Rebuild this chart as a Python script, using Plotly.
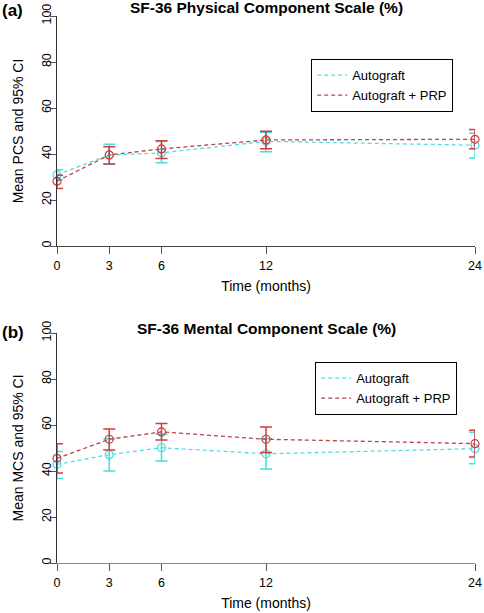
import plotly.graph_objects as go

months = [0, 3, 6, 12, 24]
x_ticks = [0, 3, 6, 12, 24]
y_ticks = [0, 20, 40, 60, 80, 100]

pcs_auto_mean = [31.0, 39.5, 40.5, 45.5, 43.8]
pcs_auto_lo = [28.8, 35.5, 36.2, 41.0, 38.3]
pcs_auto_hi = [33.2, 44.2, 45.4, 49.5, 49.0]
pcs_prp_mean = [28.2, 39.6, 42.2, 46.1, 46.4]
pcs_prp_lo = [25.0, 35.6, 38.0, 42.3, 42.3]
pcs_prp_hi = [30.8, 43.2, 45.8, 49.9, 50.6]

mcs_auto_mean = [42.9, 47.1, 50.1, 47.5, 49.7]
mcs_auto_lo = [36.7, 40.0, 44.3, 40.9, 43.2]
mcs_auto_hi = [48.5, 54.0, 56.0, 54.0, 56.8]
mcs_prp_mean = [45.5, 53.8, 57.0, 53.8, 51.9]
mcs_prp_lo = [39.1, 49.1, 53.5, 48.0, 46.1]
mcs_prp_hi = [51.9, 58.3, 60.6, 59.1, 57.7]

series_names = ["Autograft", "Autograft + PRP"]
titles = ["SF-36 Physical Component Scale (%)", "SF-36 Mental Component Scale (%)"]
panel_labels = ["(a)", "(b)"]
y_titles = ["Mean PCS and 95% CI", "Mean MCS and 95% CI"]
x_title = "Time (months)"

CYAN_LINE = "#55DDE6"
CYAN_BAR = "#3FE0E0"
RED_LINE = "#B8444A"
RED_BAR = "#D83A3A"
FONT = "Liberation Sans, Arial, sans-serif"

W, H = 484, 613
ML, MR, MT, MB = 57, 9, 16, 50
PW, PH = W - ML - MR, H - MT - MB


def px_x(px):
    return (px - ML) / PW


def px_y(py):
    return (H - MB - py) / PH


fig = go.Figure()

panels = [
    ("x", "y", "legend",
     [(pcs_auto_mean, pcs_auto_lo, pcs_auto_hi), (pcs_prp_mean, pcs_prp_lo, pcs_prp_hi)]),
    ("x2", "y2", "legend2",
     [(mcs_auto_mean, mcs_auto_lo, mcs_auto_hi), (mcs_prp_mean, mcs_prp_lo, mcs_prp_hi)]),
]

for xa, ya, lg, data in panels:
    for (mean, lo, hi), name, lc, bc in zip(data, series_names, [CYAN_LINE, RED_LINE], [CYAN_BAR, RED_BAR]):
        fig.add_trace(go.Scatter(
            x=months, y=mean, mode="lines", name=name, xaxis=xa, yaxis=ya,
            legend=lg, line=dict(color=lc, width=1.3, dash="4px,3px"),
            cliponaxis=False,
        ))
        fig.add_trace(go.Scatter(
            x=months, y=mean, mode="markers", showlegend=False, xaxis=xa, yaxis=ya,
            marker=dict(symbol="circle-open", size=8, color=bc, line=dict(width=1.2, color=bc)),
            error_y=dict(type="data", symmetric=False,
                         array=[h - m for h, m in zip(hi, mean)],
                         arrayminus=[m - l for m, l in zip(mean, lo)],
                         color=bc, thickness=1.5, width=6),
            cliponaxis=False,
        ))

axis_common = dict(showgrid=False, zeroline=False, showline=True,
                   linewidth=1.3, ticks="outside", tickcolor="#555555",
                   tickwidth=1.2, automargin=False, ticklabeloverflow="allow",
                   tickfont=dict(family=FONT, size=12.5, color="black"))
x_common = dict(domain=[0, 1], range=[0, 24], tickvals=x_ticks, ticklen=7,
                ticklabelstandoff=1,
                title=dict(text=x_title, standoff=9, font=dict(size=14)), **axis_common)
y_common = dict(range=[0, 100], tickvals=y_ticks, ticklen=6, tickangle=-90,
                ticklabelstandoff=-6, linecolor="#333333", **axis_common)

fig.update_layout(
    width=W, height=H,
    margin=dict(l=ML, r=MR, t=MT, b=MB),
    paper_bgcolor="white", plot_bgcolor="white",
    font=dict(family=FONT, size=13, color="black"),
    xaxis=dict(anchor="y", linecolor="#444444", **x_common),
    yaxis=dict(domain=[px_y(246), 1.0], anchor="x",
               title=dict(text=y_titles[0], standoff=12, font=dict(size=14)), **y_common),
    xaxis2=dict(anchor="y2", linecolor="#8a8a8a", **x_common),
    yaxis2=dict(domain=[0, px_y(333)], anchor="x2",
                title=dict(text=y_titles[1], standoff=12, font=dict(size=14)), **y_common),
    legend=dict(x=px_x(311), y=px_y(59), xanchor="left", yanchor="top",
                bordercolor="black", borderwidth=1.2, bgcolor="white",
                font=dict(size=13), itemwidth=30, tracegroupgap=0),
    legend2=dict(x=px_x(315), y=px_y(362), xanchor="left", yanchor="top",
                 bordercolor="black", borderwidth=1.2, bgcolor="white",
                 font=dict(size=13), itemwidth=30, tracegroupgap=0),
    showlegend=True,
)

# Titles and panel labels
title_y_px = [8, 328]
label_y_px = [10, 332]
for i in range(2):
    fig.add_annotation(text="<b>" + titles[i] + "</b>", xref="paper", yref="paper",
                       x=px_x(266), y=px_y(title_y_px[i]),
                       xanchor="center", yanchor="middle", showarrow=False,
                       font=dict(size=15.5, family=FONT))
    fig.add_annotation(text="<b>" + panel_labels[i] + "</b>", xref="paper", yref="paper",
                       x=px_x(0), y=px_y(label_y_px[i]),
                       xanchor="left", yanchor="middle", showarrow=False,
                       font=dict(size=17, family=FONT))

fig.write_html("out.html", config={"displayModeBar": False},
               post_script="document.body.style.margin='0';")
